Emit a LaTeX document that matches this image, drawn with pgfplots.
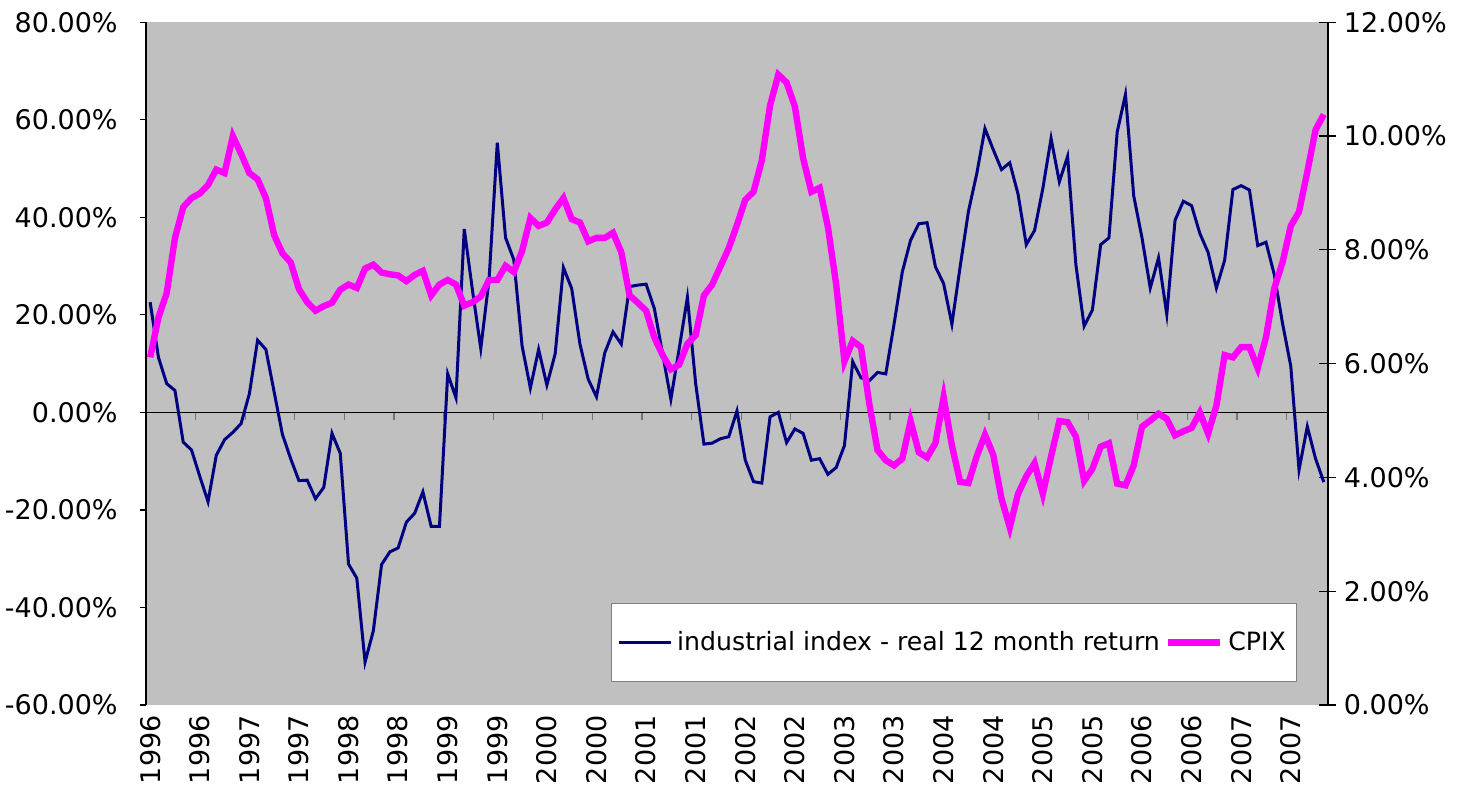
\documentclass[border=0pt]{standalone}
\usepackage{pgfplots}
\usepackage{pgfplotstable}
\pgfplotsset{compat=1.18}
\usepackage{fontspec}
\setmainfont{DejaVu Sans}
\usetikzlibrary{calc}

\definecolor{plotbg}{HTML}{C0C0C0}
\definecolor{navyline}{HTML}{000080}
\definecolor{cpixline}{HTML}{FF00FF}

% monthly, Jan 1996 = 0
\pgfplotstableread{
i ret
0 22.6
1 11.3
2 5.9
3 4.5
4 -6.1
5 -7.7
6 -13.1
7 -18.3
8 -8.8
9 -5.6
10 -4.1
11 -2.3
12 3.8
13 14.8
14 12.9
15 4.2
16 -4.5
17 -9.5
18 -14.0
19 -13.9
20 -17.7
21 -15.4
22 -4.3
23 -8.4
24 -31.1
25 -34.0
26 -51.2
27 -44.8
28 -31.2
29 -28.6
30 -27.8
31 -22.5
32 -20.7
33 -16.3
34 -23.4
35 -23.4
36 7.9
37 3.0
38 37.6
39 25.0
40 13.1
41 27.2
42 55.3
43 35.8
44 31.3
45 13.6
46 5.0
47 12.9
48 5.6
49 12.0
50 29.7
51 25.4
52 14.0
53 6.8
54 3.2
55 12.2
56 16.5
57 14.0
58 25.8
59 26.1
60 26.3
61 21.3
62 12.0
63 2.7
64 13.0
65 23.6
66 5.9
67 -6.5
68 -6.3
69 -5.4
70 -5.0
71 0.3
72 -9.8
73 -14.2
74 -14.5
75 -0.9
76 0.0
77 -6.2
78 -3.4
79 -4.3
80 -9.8
81 -9.5
82 -12.7
83 -11.3
84 -6.8
85 10.4
86 7.1
87 6.5
88 8.2
89 7.9
90 18.1
91 28.8
92 35.3
93 38.7
94 38.9
95 29.9
96 26.4
97 18.1
98 29.9
99 41.2
100 48.9
101 58.2
102 53.9
103 49.8
104 51.2
105 44.8
106 34.4
107 37.3
108 45.9
109 56.2
110 47.3
111 52.5
112 30.3
113 17.7
114 21.0
115 34.4
116 35.8
117 57.5
118 65.2
119 44.4
120 35.8
121 25.5
122 31.7
123 20.1
124 39.4
125 43.3
126 42.4
127 36.7
128 32.8
129 25.5
130 31.2
131 45.7
132 46.5
133 45.6
134 34.2
135 34.9
136 28.3
137 18.3
138 9.5
139 -11.8
140 -2.9
141 -9.5
142 -14.3
}\rettable

\pgfplotstableread{
i cpix
0 6.11
1 6.81
2 7.24
3 8.21
4 8.75
5 8.91
6 8.99
7 9.14
8 9.41
9 9.35
10 10.00
11 9.69
12 9.35
13 9.24
14 8.91
15 8.26
16 7.94
17 7.78
18 7.31
19 7.08
20 6.93
21 7.01
22 7.07
23 7.30
24 7.39
25 7.33
26 7.67
27 7.74
28 7.60
29 7.57
30 7.55
31 7.45
32 7.56
33 7.63
34 7.20
35 7.39
36 7.47
37 7.39
38 7.02
39 7.08
40 7.18
41 7.47
42 7.47
43 7.72
44 7.61
45 7.98
46 8.56
47 8.42
48 8.48
49 8.71
50 8.91
51 8.54
52 8.48
53 8.15
54 8.21
55 8.21
56 8.30
57 7.96
58 7.20
59 7.07
60 6.93
61 6.46
62 6.15
63 5.90
64 5.98
65 6.35
66 6.50
67 7.20
68 7.39
69 7.71
70 8.03
71 8.44
72 8.88
73 9.02
74 9.57
75 10.54
76 11.08
77 10.94
78 10.52
79 9.61
80 9.02
81 9.09
82 8.40
83 7.39
84 6.04
85 6.40
86 6.29
87 5.30
88 4.48
89 4.30
90 4.21
91 4.33
92 4.99
93 4.44
94 4.35
95 4.60
96 5.41
97 4.56
98 3.92
99 3.90
100 4.37
101 4.75
102 4.40
103 3.63
104 3.12
105 3.71
106 4.02
107 4.25
108 3.71
109 4.37
110 4.99
111 4.97
112 4.72
113 3.94
114 4.15
115 4.54
116 4.60
117 3.89
118 3.86
119 4.21
120 4.89
121 5.00
122 5.12
123 5.03
124 4.74
125 4.81
126 4.87
127 5.14
128 4.77
129 5.26
130 6.15
131 6.11
132 6.29
133 6.29
134 5.92
135 6.46
136 7.32
137 7.78
138 8.42
139 8.67
140 9.37
141 10.11
142 10.38
}\cpixtable

\begin{document}
\begin{tikzpicture}
\pgfplotsset{
  frame/.style={scale only axis, width=590.8pt, height=341.25pt,
    xmin=-0.5, xmax=142.5},
  ticktext/.style={font=\fontsize{13.5pt}{16pt}\selectfont},
}

% grey plot area and the zero line with its ticks
\begin{axis}[frame, ymin=-60, ymax=80,
  axis background/.style={fill=plotbg},
  axis x line=middle, axis y line=none,
  axis line style={-, black, line width=0.5pt},
  xtick={-0.5,5.5,...,137.5}, xticklabels={},
  xtick align=outside, major tick length=3.7pt,
  xtick style={black!55, line width=0.6pt}, ytick=\empty]
\end{axis}

% left axis: industrial index
\begin{axis}[frame, ymin=-60, ymax=80,
  axis y line*=left, axis x line*=bottom,
  y axis line style={-, black, line width=0.6pt},
  x axis line style={draw=none},
  xtick={0,6,...,138},
  xticklabels={1996,1996,1997,1997,1998,1998,1999,1999,2000,2000,2001,2001,
    2002,2002,2003,2003,2004,2004,2005,2005,2006,2006,2007,2007},
  xtick style={draw=none},
  xticklabel style={ticktext, rotate=90, anchor=east, inner ysep=0pt, inner xsep=5pt},
  ytick={-60,-40,...,80},
  yticklabels={-60.00\%,-40.00\%,-20.00\%,0.00\%,20.00\%,40.00\%,60.00\%,80.00\%},
  ytick align=outside, major tick length=3pt,
  ytick style={black, line width=0.6pt},
  yticklabel style={ticktext, anchor=east, inner sep=0pt, xshift=-11pt}]
\addplot[navyline, line width=1.5pt] table[x=i, y=ret] {\rettable};
\coordinate (sw) at (rel axis cs:0,0);
\coordinate (ne) at (rel axis cs:1,1);
\end{axis}

% right axis: CPIX
\begin{axis}[frame, ymin=0, ymax=12,
  axis y line*=right, axis x line=none,
  y axis line style={-, black, line width=0.6pt},
  ytick={0,2,...,12},
  yticklabels={0.00\%,2.00\%,4.00\%,6.00\%,8.00\%,10.00\%,12.00\%},
  ytick align=center, major tick length=8.5pt,
  ytick style={black, line width=0.6pt},
  yticklabel style={ticktext, anchor=west, inner sep=0pt, xshift=3.5pt},
  legend columns=2,
  legend image code/.code={\draw[#1] (0pt,0pt) -- (26pt,0pt);},
  legend style={at={(0.6836,0.0913)}, anchor=center,
    draw=black!50, fill=white, line width=0.6pt,
    inner xsep=3pt, inner ysep=13pt,
    font=\fontsize{12.6pt}{15pt}\selectfont,
    nodes={inner xsep=2.5pt, inner ysep=1pt}}]
\addlegendimage{navyline, line width=1.5pt}
\addlegendentry{industrial index - real 12 month return}
\addplot[cpixline, line width=3.2pt] table[x=i, y=cpix] {\cpixtable};
\addlegendentry{CPIX}
\end{axis}

\pgfresetboundingbox
\path[use as bounding box] ($(sw)+(-73pt,-46.1pt)$) rectangle ($(ne)+(70pt,11.15pt)$);
\end{tikzpicture}
\end{document}
